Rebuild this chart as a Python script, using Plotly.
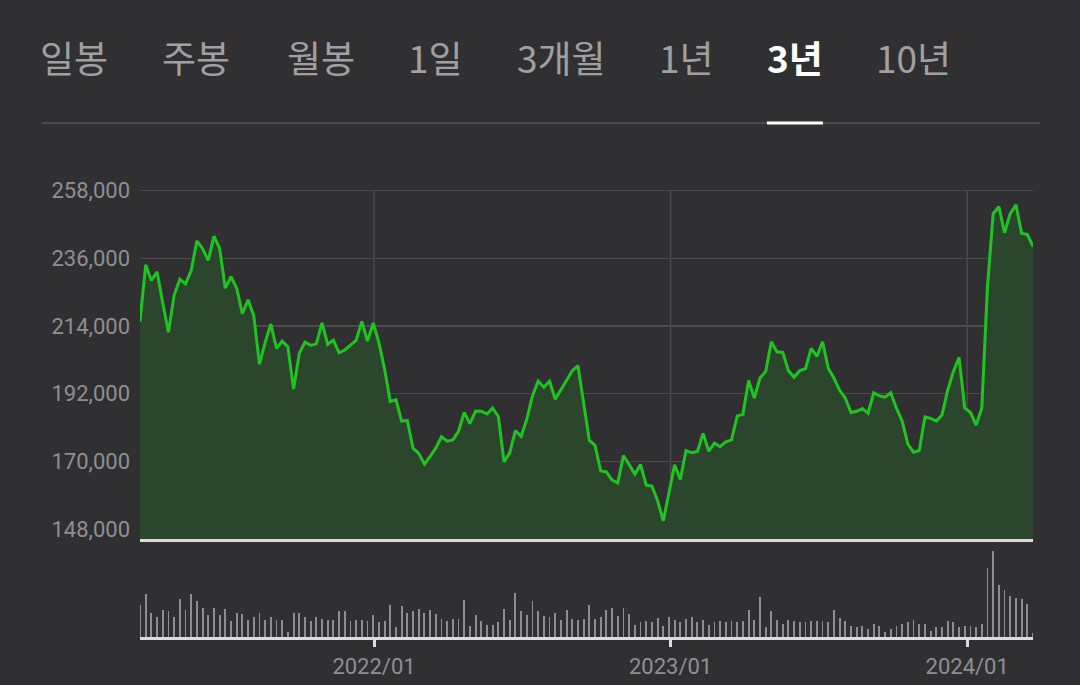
import pandas as pd
import plotly.graph_objects as go

# ---------------- data ----------------
tabs = ["일봉", "주봉", "월봉", "1일", "3개월", "1년", "3년", "10년"]
active_tab = "3년"

start_date = "2021-03-19"

price = [
    215400, 233900, 228800, 231600, 221500, 212000, 224000, 229200, 227700, 232000,
    241700, 239200, 235300, 243200, 239200, 226300, 230000, 226300, 218000, 222500,
    217400, 201600, 208600, 214700, 206700, 209100, 207200, 193500, 205100, 208800,
    207700, 208200, 215000, 208000, 209400, 205300, 206200, 207700, 209300, 215500,
    209100, 215000, 208600, 200000, 189500, 190100, 183100, 183300, 174300, 172600,
    169100, 171600, 174300, 178000, 176600, 177000, 179800, 185900, 182300, 186400,
    186300, 185400, 187300, 184600, 169800, 172800, 180000, 178100, 183700, 191300,
    196100, 194100, 196100, 190200, 193200, 196300, 199500, 201100, 189100, 176800,
    175200, 166900, 166600, 163900, 163000, 171900, 169000, 165800, 169000, 162300,
    162000, 157200, 150700, 160100, 168900, 164100, 173500, 172800, 173200, 179100,
    173300, 176000, 174800, 176400, 177000, 184800, 185300, 196300, 190600, 197100,
    199200, 208900, 205600, 205400, 199500, 197400, 199500, 200100, 206700, 204100,
    208900, 200300, 197100, 193100, 190600, 185900, 186300, 187200, 185600, 192300,
    191300, 190900, 192300, 187200, 183100, 175600, 173000, 173500, 184500, 184000,
    183100, 185100, 193100, 199200, 203800, 187400, 185900, 181800, 187400, 226900,
    250500, 252800, 244300, 250500, 253400, 244100, 243800, 239800,
]

volume = [
    97, 128, 73, 60, 80, 77, 60, 115, 80, 128,
    107, 88, 65, 88, 65, 83, 48, 72, 68, 52,
    60, 72, 52, 60, 52, 52, 17, 72, 72, 60,
    48, 60, 55, 52, 52, 77, 77, 48, 52, 52,
    48, 65, 45, 48, 95, 30, 92, 72, 77, 83,
    72, 80, 68, 55, 48, 55, 55, 112, 33, 65,
    48, 37, 37, 45, 83, 53, 132, 77, 65, 107,
    77, 63, 60, 72, 52, 80, 55, 52, 55, 95,
    55, 60, 80, 88, 63, 88, 68, 37, 45, 48,
    45, 57, 33, 60, 52, 45, 55, 60, 45, 52,
    37, 45, 48, 45, 48, 45, 48, 80, 52, 120,
    30, 77, 52, 40, 52, 48, 45, 45, 48, 48,
    48, 45, 80, 57, 48, 33, 30, 33, 25, 40,
    33, 17, 25, 33, 40, 45, 52, 40, 40, 20,
    30, 30, 48, 45, 30, 33, 33, 30, 40, 205,
    257, 155, 140, 123, 117, 113, 100, 13,
]

y_ticks = [148000, 170000, 192000, 214000, 236000, 258000]
x_ticks = ["2022-01-01", "2023-01-01", "2024-01-01"]
x_ticktext = ["2022/01", "2023/01", "2024/01"]

dates = pd.date_range(start=start_date, periods=len(price), freq="7D")

# ---------------- layout helpers ----------------
W, H = 1080, 685
BG = "#303033"
GRID = "#4a4a4d"
AXIS_LINE = "#dcdcdc"
LABEL = "#8f8f92"

def px_x(p):
    return p / W

def px_y(p):
    return 1 - p / H

plot_left, plot_right = 140, 1033
price_top, price_bottom = 180, 541
vol_top, vol_bottom = 550, 640

# price axis range derived from tick spacing (68.2 px per 22,000)
per_px = 22000 / 68.2
y_min = y_ticks[0] - (price_bottom - 531) * per_px
y_max = y_ticks[-1] + (190 - price_top) * per_px

vol_max = max(volume) * (vol_bottom - vol_top) / (vol_bottom - 553)

fig = go.Figure()

fig.add_trace(go.Scatter(
    x=dates, y=price, mode="lines",
    line=dict(color="#1fc421", width=3),
    fill="tozeroy", fillcolor="#2b462d",
    xaxis="x", yaxis="y", hoverinfo="skip",
))

fig.add_trace(go.Bar(
    x=dates, y=volume,
    marker=dict(color="#8e8e92", line=dict(width=0)),
    width=2.3 * 86400000,
    xaxis="x2", yaxis="y2", hoverinfo="skip",
))

shapes = []
# vertical year gridlines in price panel
for xt in x_ticks:
    shapes.append(dict(type="line", xref="x", yref="y", x0=xt, x1=xt,
                       y0=y_ticks[0], y1=y_ticks[-1],
                       line=dict(color=GRID, width=1.5), layer="below"))
# tab separator and active underline
shapes.append(dict(type="line", xref="paper", yref="paper",
                   x0=px_x(42), x1=px_x(1040), y0=px_y(122), y1=px_y(122),
                   line=dict(color="#4a4a4c", width=2)))

tab_centers = [74, 196, 321, 435, 561, 686, 795, 913]
annotations = []
for t, cx in zip(tabs, tab_centers):
    is_active = t == active_tab
    annotations.append(dict(
        text=f"<b>{t}</b>" if is_active else t,
        x=px_x(cx), y=px_y(55), xref="paper", yref="paper",
        xanchor="center", yanchor="middle", showarrow=False,
        font=dict(family="Noto Sans CJK KR", size=37,
                  color="#ffffff" if is_active else "#a0a0a2"),
    ))
    if is_active:
        shapes.append(dict(type="line", xref="paper", yref="paper",
                           x0=px_x(cx - 28), x1=px_x(cx + 28),
                           y0=px_y(122), y1=px_y(122),
                           line=dict(color="#ffffff", width=3)))

fig.update_layout(
    width=W, height=H,
    paper_bgcolor=BG, plot_bgcolor=BG,
    margin=dict(l=0, r=0, t=0, b=0),
    showlegend=False,
    bargap=0,
    shapes=shapes,
    annotations=annotations,
    xaxis=dict(
        domain=[px_x(plot_left), px_x(plot_right)],
        type="date", range=[dates[0], dates[-1]],
        showticklabels=False, showgrid=False, zeroline=False,
        showline=True, linecolor=AXIS_LINE, linewidth=3,
        anchor="y", fixedrange=True,
    ),
    yaxis=dict(
        domain=[px_y(price_bottom), px_y(price_top)],
        range=[y_min, y_max],
        tickvals=y_ticks, tickformat=",d",
        tickfont=dict(family="Roboto", size=22, color=LABEL),
        ticklabelstandoff=9,
        showgrid=True, gridcolor=GRID, gridwidth=1.5,
        zeroline=False, showline=False, anchor="x",
    ),
    xaxis2=dict(
        domain=[px_x(plot_left), px_x(plot_right)],
        type="date", range=[dates[0], dates[-1]],
        tickvals=x_ticks, ticktext=x_ticktext,
        tickfont=dict(family="Roboto", size=22, color=LABEL),
        ticks="outside", ticklen=7, tickwidth=3, tickcolor=AXIS_LINE,
        showgrid=False, zeroline=False,
        showline=True, linecolor=AXIS_LINE, linewidth=3,
        anchor="y2",
    ),
    yaxis2=dict(
        domain=[px_y(vol_bottom), px_y(vol_top)],
        range=[0, vol_max],
        visible=False, anchor="x2",
    ),
)

fig.write_html(
    "out.html",
    config={"displayModeBar": False, "staticPlot": True},
    post_script="document.body.style.margin='0';document.body.style.overflow='hidden';",
)
